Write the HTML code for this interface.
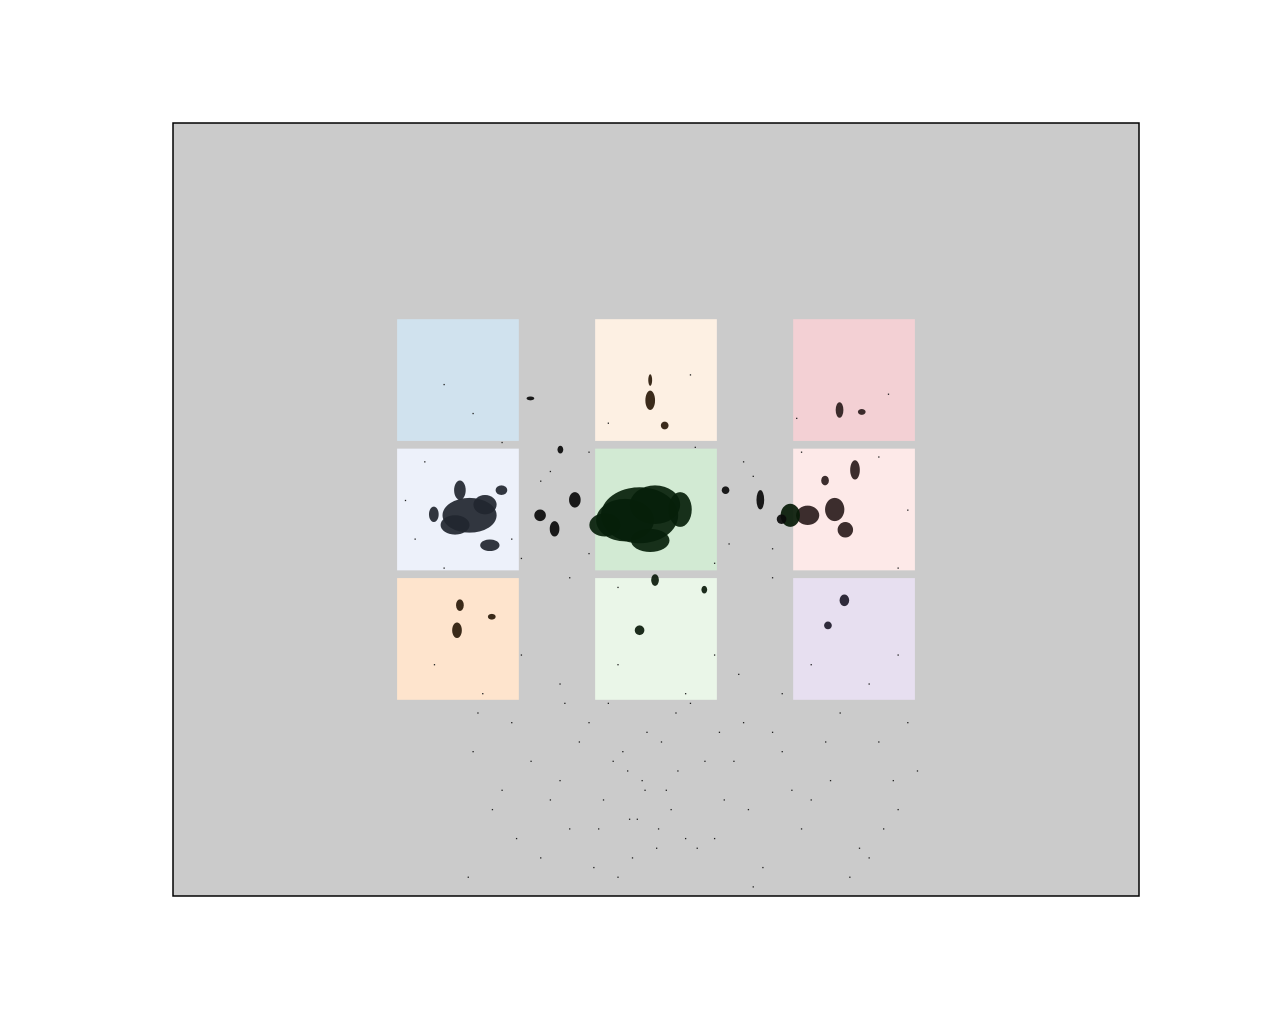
<!DOCTYPE html>
<html><head><meta charset="utf-8"><style>
html,body{margin:0;padding:0;background:#fff;width:1280px;height:1024px;overflow:hidden}
svg{display:block}
</style></head><body>
<svg id="chart" width="1280" height="1024" xmlns="http://www.w3.org/2000/svg">
<rect x="173" y="123" width="966" height="773" fill="#cbcbcb"/>
<g id="tiles"></g>
<g id="blobs"></g>
<g id="dots"></g>
<rect x="173" y="123" width="966" height="773" fill="none" stroke="#000" stroke-width="1.5"/>
</svg>
<script>
// data domain: x [-5,5], y [-4,4]
const tileX = [-2.05, 0, 2.05];
const tileY = [1.34, 0, -1.34];
const tileSize = 1.26;
const tileColors = [["#d0e2ee","#fdf0e3","#f3d0d4"],["#edf1fa","#d2ead3","#fde9e8"],["#fee4cd","#eaf6e8","#e7dff0"]];

const blobX = [-0.17,-0.32,-0.01,-0.53,0.25,-0.06, -1.93,-2.08,-1.77,-1.72,-2.03,-2.3,-1.6, 1.85,1.57,1.39,1.96,2.06,1.75, -2.06,-2.03,-1.7, -0.06,0.09,-0.06, 1.9,2.13, 1.95,1.78, -0.17,-0.01,0.5, -1.2,-0.84,1.08,-0.99,-1.3,-1.05,0.72,1.3];
const blobY = [-0.06,-0.11,0.05,-0.16,0,-0.32, -0.06,-0.16,0.05,-0.37,0.2,-0.05,0.2, 0,-0.06,-0.06,-0.21,0.41,0.3, -1.25,-0.99,-1.11, 1.13,0.87,1.34, 1.03,1.01, -0.94,-1.2, -1.25,-0.73,-0.83, -0.06,0.1,0.1,0.62,1.15,-0.2,0.2,-0.1];
const blobRX = [0.4,0.3,0.26,0.16,0.12,0.2, 0.28,0.15,0.12,0.1,0.06,0.05,0.06, 0.1,0.12,0.1,0.08,0.05,0.04, 0.05,0.04,0.04, 0.05,0.04,0.02, 0.04,0.04, 0.05,0.04, 0.05,0.04,0.03, 0.06,0.06,0.04,0.03,0.04,0.05,0.04,0.05];
const blobRY = [0.29,0.22,0.2,0.12,0.18,0.12, 0.18,0.1,0.1,0.06,0.1,0.08,0.05, 0.12,0.1,0.12,0.08,0.1,0.05, 0.08,0.06,0.03, 0.1,0.04,0.06, 0.08,0.03, 0.06,0.04, 0.05,0.06,0.04, 0.06,0.08,0.1,0.04,0.02,0.08,0.04,0.05];
const blobColor = ["#06200a","#06200a","#06200a","#06200a","#06200a","#06200a","#21262f","#21262f","#21262f","#21262f","#21262f","#21262f","#21262f","#2b1c1c","#2b1c1c","#061a06","#2b1c1c","#2b1c1c","#2b1c1c","#2a1a0a","#2a1a0a","#2a1a0a","#2a1a0a","#2a1a0a","#2a1a0a","#2b1c1c","#2b1c1c","#1f1a2a","#1f1a2a","#0a1a0a","#0a1a0a","#0a1a0a","#0a0a0a","#0a0a0a","#0a0a0a","#0a0a0a","#0a0a0a","#0a0a0a","#0a0a0a","#0a0a0a"];

const dotX = [-1.9,-1.7,-1.5,-1.2,-1.0,-0.8,-0.6,-0.5,-0.4,-0.3,-0.2,-0.1,0,0.1,0.2,0.3,0.5,0.7,0.9,1.1,1.3,1.5,1.8,2.1,2.3,2.5,2.7,
 -1.95,-1.6,-1.3,-0.9,-0.7,-0.55,-0.35,-0.25,-0.15,0.05,0.15,0.35,0.6,0.8,1.0,1.2,1.6,1.9,2.2,2.45,
 -1.85,-1.45,-1.1,-0.95,-0.65,-0.45,-0.28,-0.12,0.02,0.22,0.42,0.65,0.95,1.4,1.75,2.0,2.35,2.6,
 -2.4,-2.2,-1.6,-1.4,-1.1,-0.9,-0.7,-0.4,0.4,0.6,0.9,1.2,1.5,2.3,2.5,-2.6,-2.5,-1.5,-1.2,-0.7,0.75,1.0,1.2,2.6,
 -2.3,-1.8,-1.4,-1.0,-0.4,0.3,0.6,0.85,1.3,1.6,2.2,2.5,-2.2,-1.9,-0.5,0.35,1.45,2.4];
const dotY = [-2.5,-3.1,-2.2,-3.6,-2.8,-2.4,-3.3,-2.0,-3.8,-2.7,-3.2,-2.3,-3.5,-2.9,-2.1,-3.4,-2.6,-3.0,-2.2,-3.7,-2.5,-3.3,-2.8,-3.5,-2.4,-3.1,-2.7,
 -3.8,-2.9,-2.6,-3.3,-2.2,-3.0,-2.5,-3.6,-2.8,-2.4,-3.1,-2.0,-3.4,-2.6,-3.9,-2.3,-3.0,-2.1,-3.6,-2.8,
 -2.1,-3.4,-3.0,-2.0,-3.7,-2.6,-3.2,-2.9,-3.3,-2.7,-3.5,-2.3,-3.1,-2.9,-2.4,-3.8,-3.3,-2.2,
 0.5,-0.6,0.7,-0.5,0.4,-0.7,0.6,-0.8,0.65,-0.55,0.5,-0.7,0.6,0.55,-0.6,0.1,-0.3,-0.3,0.3,-0.45,-0.35,0.35,-0.4,0.0,
 -1.6,-1.9,-1.5,-1.8,-1.6,-1.9,-1.5,-1.7,-1.9,-1.6,-1.8,-1.5,1.3,1.0,0.9,1.4,0.95,1.2];

const sx = v => 656 + v * 96.6;
const sy = v => 509.5 - v * 96.6;
const NS = "http://www.w3.org/2000/svg";
const tilesG = document.getElementById('tiles');
tileY.forEach((ty, r) => tileX.forEach((tx, c) => {
  const el = document.createElementNS(NS, 'rect');
  el.setAttribute('x', sx(tx - tileSize / 2));
  el.setAttribute('y', sy(ty + tileSize / 2));
  el.setAttribute('width', tileSize * 96.6);
  el.setAttribute('height', tileSize * 96.6);
  el.setAttribute('fill', tileColors[r][c]);
  
  
  tilesG.appendChild(el);
}));
const blobsG = document.getElementById('blobs');
blobX.forEach((bx, i) => {
  const el = document.createElementNS(NS, 'ellipse');
  el.setAttribute('cx', sx(bx));
  el.setAttribute('cy', sy(blobY[i]));
  el.setAttribute('rx', blobRX[i] * 96.6);
  el.setAttribute('ry', blobRY[i] * 96.6);
  el.setAttribute('fill', blobColor[i]);
  el.setAttribute('opacity', '0.92');
  
  
  blobsG.appendChild(el);
});
const dotsG = document.getElementById('dots');
dotX.forEach((dx, i) => {
  const el = document.createElementNS(NS, 'rect');
  el.setAttribute('x', sx(dx));
  el.setAttribute('y', sy(dotY[i]));
  el.setAttribute('width', 1.3);
  el.setAttribute('height', 1.3);
  el.setAttribute('fill', '#222');
  
  
  dotsG.appendChild(el);
});
</script>
</body></html>
